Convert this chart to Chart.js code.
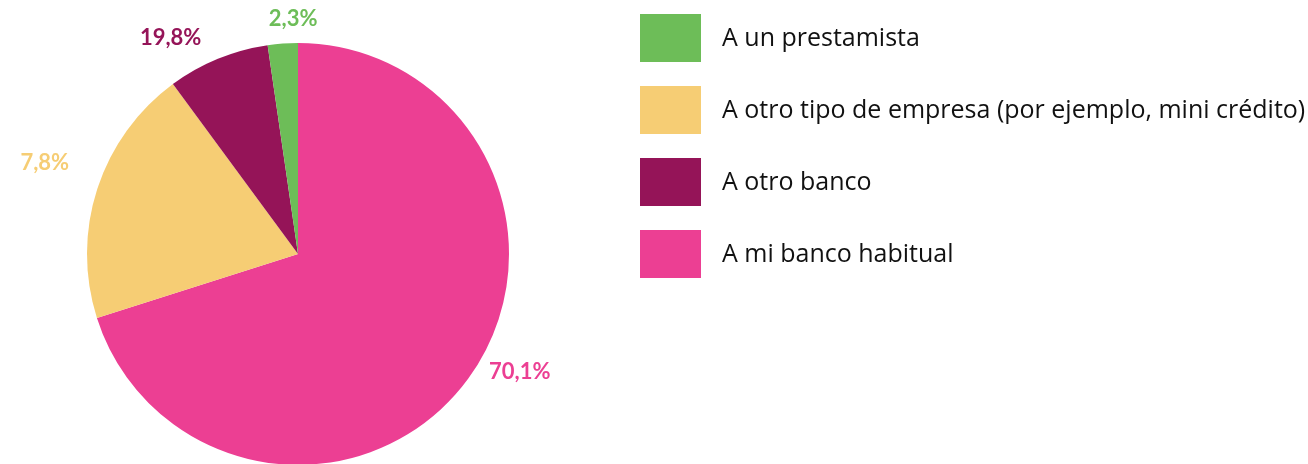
<!DOCTYPE html>
<html>
<head>
<meta charset="utf-8">
<script src="https://cdn.jsdelivr.net/npm/chart.js@4.4.0/dist/chart.umd.min.js"></script>
<style>
  html, body { margin: 0; padding: 0; background: #fff; overflow: hidden; }
  canvas { display: block; }
</style>
</head>
<body>
<canvas id="pie" width="1308" height="466"></canvas>
<script>
// slices in drawing order (clockwise from the top)
const categories = [
  'A mi banco habitual',
  'A otro tipo de empresa (por ejemplo, mini crédito)',
  'A otro banco',
  'A un prestamista'
];
const values = [70.1, 19.8, 7.8, 2.3];
// texts printed next to each slice, as they appear in the original
const percentLabels = ['70,1%', '7,8%', '19,8%', '2,3%'];
const colors = ['#EC3F93', '#F6CD74', '#951458', '#6DBD58'];
// order of the entries in the legend (indexes into categories)
const legendOrder = [3, 1, 2, 0];

// labels outside the pie, coloured like their slice
const sliceLabels = {
  id: 'sliceLabels',
  afterDatasetsDraw(chart, args, opts) {
    const ctx = chart.ctx;
    const meta = chart.getDatasetMeta(0);
    ctx.save();
    ctx.font = 'bold 22px Lato';
    ctx.textAlign = 'center';
    ctx.textBaseline = 'middle';
    meta.data.forEach((arc, i) => {
      const p = arc.getProps(['x', 'y', 'startAngle', 'endAngle', 'outerRadius'], true);
      const mid = (p.startAngle + p.endAngle) / 2;
      const c = Math.cos(mid), s = Math.sin(mid);
      const text = percentLabels[i];
      const w = ctx.measureText(text).width;
      const r = p.outerRadius + opts.gap;
      const nudge = opts.nudge[i] || [0, 0];
      const cx = p.x + c * r + c * w / 2 + nudge[0];
      const cy = p.y + s * r + s * 9 + nudge[1];
      ctx.fillStyle = colors[i];
      ctx.fillText(text, cx, cy);
    });
    ctx.restore();
  }
};

// legend on the right
const sideLegend = {
  id: 'sideLegend',
  afterDraw(chart, args, opts) {
    const ctx = chart.ctx;
    ctx.save();
    ctx.font = '25px "Open Sans"';
    ctx.textAlign = 'left';
    ctx.textBaseline = 'middle';
    legendOrder.forEach((i, k) => {
      const top = opts.top + k * opts.step;
      ctx.fillStyle = colors[i];
      ctx.fillRect(opts.left, top, opts.boxW, opts.boxH);
      ctx.fillStyle = '#111';
      ctx.fillText(categories[i], opts.textX, top + opts.boxH / 2 + 1);
    });
    ctx.restore();
  }
};

new Chart(document.getElementById('pie'), {
  type: 'pie',
  plugins: [sliceLabels, sideLegend],
  data: {
    labels: categories,
    datasets: [{
      data: values,
      backgroundColor: colors,
      borderWidth: 0
    }]
  },
  options: {
    responsive: false,
    animation: false,
    devicePixelRatio: 1,
    layout: { padding: { left: 87, right: 799, top: 43, bottom: 1 } },
    plugins: {
      legend: { display: false },
      tooltip: { enabled: false },
      sliceLabels: {
        gap: 12,
        nudge: [[17, -19], [-18, -19], [-31, -1], [13, -4]]
      },
      sideLegend: { left: 640, top: 14, step: 72, boxW: 61, boxH: 48, textX: 722 }
    }
  }
});
</script>
</body>
</html>
